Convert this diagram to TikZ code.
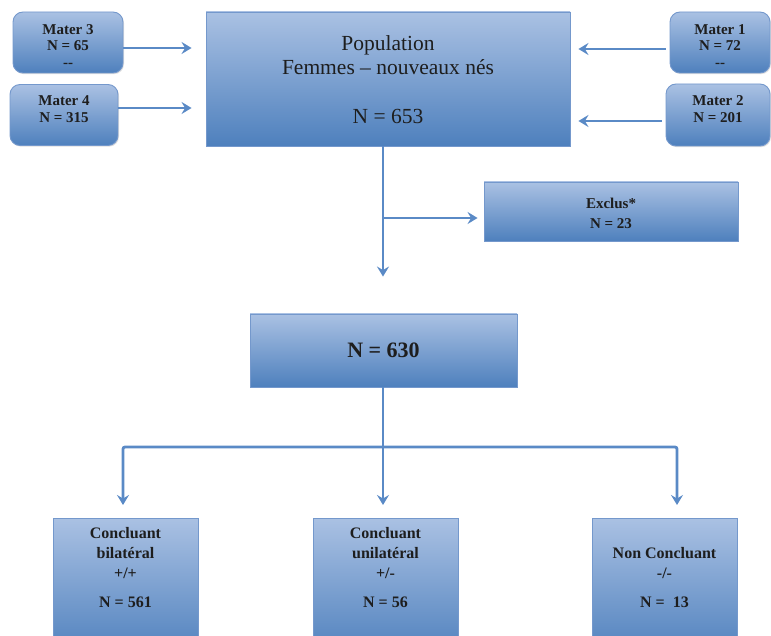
\documentclass[tikz,border=0pt]{standalone}
\usepackage{fontspec}
\setmainfont{Liberation Serif}
\usetikzlibrary{arrows.meta,shadows}
\definecolor{boxtop}{HTML}{AAC1E3}
\definecolor{boxbot}{HTML}{4E80BD}
\definecolor{boxline}{HTML}{7498CC}
\definecolor{arrowc}{HTML}{5A8AC6}
\definecolor{txt}{HTML}{1E1E1E}
\tikzset{
  box/.style={draw=boxline, line width=0.9pt, top color=boxtop, bottom color=boxbot,
    inner sep=0pt, drop shadow={opacity=0.25, shadow xshift=1pt, shadow yshift=-1.2pt}},
  rbox/.style={box, rounded corners=10pt},
  txtnode/.style={align=center, text=txt, inner sep=0pt},
  smalltxt/.style={txtnode, font=\fontsize{15}{16.5}\selectfont\bfseries},
  bottxt/.style={txtnode, font=\fontsize{16}{20}\selectfont\bfseries},
  arr/.style={draw=arrowc, line width=2.8pt, -{Stealth[length=10pt,width=12pt,inset=3.5pt]}},
  lin/.style={draw=arrowc, line width=2.6pt},
}
\begin{document}
\begin{tikzpicture}[x=1pt,y=-1pt]
\useasboundingbox (0,0) rectangle (771,636);
\clip (0,0) rectangle (771,636);
% boxes
\node[rbox, minimum width=110pt, minimum height=61pt] (m3) at (68,42.5) {};
\node[rbox, minimum width=108pt, minimum height=61pt] (m4) at (64,115) {};
\node[rbox, minimum width=100pt, minimum height=61pt] (m1) at (720,42.5) {};
\node[rbox, minimum width=104pt, minimum height=62pt] (m2) at (718,115) {};
\node[box, minimum width=364pt, minimum height=134pt] (pop) at (388,79) {};
\node[box, minimum width=254pt, minimum height=59pt] (excl) at (611,211.5) {};
\node[box, minimum width=267pt, minimum height=73pt] (n630) at (383.5,350.5) {};
\node[box, minimum width=145pt, minimum height=140pt] (b1) at (125.5,588) {};
\node[box, minimum width=145pt, minimum height=140pt] (b2) at (385.5,588) {};
\node[box, minimum width=145pt, minimum height=140pt] (b3) at (664.5,588) {};
% texts
\node[smalltxt] (m3t) at (68,46) {Mater 3\\N = 65\\-{}-};
\node[smalltxt] (m4t) at (64,109) {Mater 4\\N = 315};
\node[smalltxt] (m1t) at (720,46) {Mater 1\\N = 72\\-{}-};
\node[smalltxt] (m2t) at (718,109) {Mater 2\\N = 201};
\node[txtnode, font=\fontsize{21.5}{24}\selectfont] (popt) at (388,80)
  {Population\\Femmes – nouveaux nés\\[25pt]N = 653};
\node[txtnode, font=\fontsize{15}{20}\selectfont\bfseries] (exclt) at (611,213) {Exclus*\\N = 23};
\node[txtnode, font=\fontsize{22}{26}\selectfont\bfseries] (n630t) at (383.5,350) {N = 630};
\node[bottxt] (b1t) at (125.5,568) {Concluant\\bilatéral\\+/+\\[9pt]N = 561};
\node[bottxt] (b2t) at (385.5,568) {Concluant\\unilatéral\\+/-\\[9pt]N = 56};
\node[bottxt] (b3t) at (664.5,578) {Non Concluant\\-/-\\[9pt]N = \ 13};
% connectors: maternities to population
\draw[arr, shorten >=14pt] (m3.east |- 0,48) -- (pop.west |- 0,48);
\draw[arr, shorten >=14pt] (m4.east |- 0,108) -- (pop.west |- 0,108);
\draw[arr, shorten >=8pt, shorten <=4pt] (m1.west |- 0,49) -- (pop.east |- 0,49);
\draw[arr, shorten >=8pt, shorten <=4pt] (m2.west |- 0,121) -- (pop.east |- 0,121);
% population to exclusions and to N=630
\coordinate (j1) at (383,218);
\draw[lin] (pop.south -| j1) -- (j1);
\draw[arr, shorten >=6pt] (j1) -- (j1 -| excl.west);
\draw[arr, shorten >=37pt] (j1) -- (j1 |- n630.north);
% N=630 to the three groups
\coordinate (h) at (383,447);
\coordinate (t1) at (123,518);
\coordinate (t2) at (383,518);
\coordinate (t3) at (677,518);
\draw[lin] (n630.south -| h) -- (h);
\draw[arr, shorten >=13pt, rounded corners=2pt] (h) -| (t1);
\draw[arr, shorten >=13pt] (h) -- (t2);
\draw[arr, shorten >=13pt, rounded corners=2pt] (h) -| (t3);
\end{tikzpicture}
\end{document}
